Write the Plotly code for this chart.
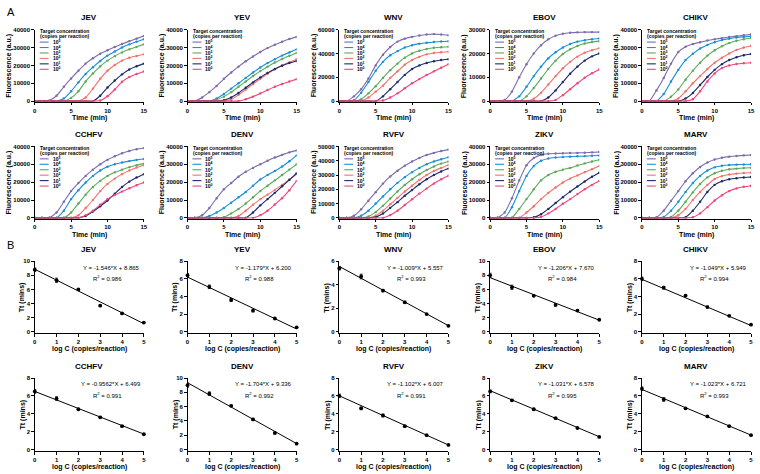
import plotly.graph_objects as go

W, H = 760, 474
FONT = "Liberation Sans, Arial, sans-serif"

# ---------------- data ----------------
time_min = list(range(16))
viruses = ["JEV", "YEV", "WNV", "EBOV", "CHIKV", "CCHFV", "DENV", "RVFV", "ZIKV", "MARV"]
conc_labels = ["10<sup>5</sup>", "10<sup>4</sup>", "10<sup>3</sup>", "10<sup>2</sup>", "10<sup>1</sup>", "10<sup>0</sup>"]
curve_colors = ["#7E6BAD", "#1A8FD6", "#5BAA5B", "#F2736E", "#1B2A6B", "#F0457A"]
fluor_max = [40000, 40000, 60000, 30000, 40000, 40000, 40000, 50000, 40000, 40000]
fluor_dtick = [10000, 10000, 20000, 10000, 10000, 10000, 10000, 10000, 10000, 10000]

JEV_curves = [
    [0, 0, 300, 3000, 8000, 12700, 17000, 21000, 24000, 26500, 28500, 30300, 32000, 33600, 35000, 36500],
    [0, 0, 0, 0, 1500, 5500, 10500, 15200, 19000, 22500, 25500, 27800, 30000, 31800, 33300, 34700],
    [0, 0, 0, 0, 0, 1800, 5500, 11000, 15500, 19500, 22700, 25200, 27300, 29000, 30400, 31800],
    [0, 0, 0, 0, 0, 0, 0, 2000, 7000, 12500, 17000, 20200, 22700, 24300, 25300, 26200],
    [0, 0, 0, 0, 0, 0, 0, 0, 0, 3000, 7600, 11500, 15000, 17700, 19500, 21000],
    [0, 0, 0, 0, 0, 0, 0, 0, 0, 300, 2700, 6500, 10800, 13500, 15200, 16600],
]
YEV_curves = [
    [0, 0, 2000, 5000, 8500, 12500, 16000, 19300, 22300, 25000, 27500, 29700, 31600, 33300, 34800, 36000],
    [0, 0, 0, 0, 1500, 4000, 7000, 10000, 13000, 16000, 18800, 21300, 23500, 25500, 27300, 29000],
    [0, 0, 0, 0, 800, 2500, 5000, 8000, 11000, 14000, 16800, 19300, 21600, 23600, 25400, 27000],
    [0, 0, 0, 0, 0, 0, 1000, 3500, 6500, 9500, 12500, 15300, 17800, 20000, 21800, 23500],
    [0, 0, 0, 0, 0, 500, 2000, 4500, 7500, 10500, 13300, 15800, 18000, 19800, 21300, 22500],
    [0, 0, 0, 0, 0, 0, 0, 0, 1000, 2500, 4300, 6200, 8000, 9600, 11000, 12300],
]
WNV_curves = [
    [0, 0, 4000, 10000, 19000, 30000, 39000, 45500, 50000, 52500, 54000, 55200, 56000, 56300, 56000, 55300],
    [0, 0, 800, 7000, 16000, 25500, 33000, 38500, 42000, 45000, 47000, 48300, 49000, 49700, 50100, 50300],
    [0, 0, 0, 1500, 6500, 12500, 19500, 26000, 31500, 36500, 40000, 42300, 43800, 44800, 45300, 45700],
    [0, 0, 0, 0, 3000, 8000, 13000, 19500, 25000, 30500, 34500, 37200, 39300, 40400, 41000, 41500],
    [0, 0, 0, 0, 0, 0, 4000, 10000, 16000, 22000, 27000, 30000, 32000, 33500, 34500, 35200],
    [0, 0, 0, 0, 0, 0, 500, 3000, 6500, 10800, 15000, 18500, 22000, 25000, 28000, 31000],
]
EBOV_curves = [
    [0, 0, 500, 4000, 10000, 15500, 20000, 23500, 26000, 27500, 28300, 28700, 28900, 29000, 29000, 29000],
    [0, 0, 0, 0, 2000, 6000, 10500, 14500, 18000, 20500, 22500, 24000, 25000, 25600, 26000, 26300],
    [0, 0, 0, 0, 0, 2000, 5500, 9500, 13500, 17000, 19800, 21800, 23200, 24200, 24800, 25200],
    [0, 0, 0, 0, 0, 0, 1000, 3500, 7000, 10500, 13800, 16500, 18700, 20300, 21400, 22200],
    [0, 0, 0, 0, 0, 0, 0, 0, 1500, 4500, 8000, 11500, 14500, 17000, 18800, 20000],
    [0, 0, 0, 0, 0, 0, 0, 0, 0, 500, 2500, 5000, 7500, 9800, 11700, 13300],
]
CHIKV_curves = [
    [0, 0, 6000, 13000, 21000, 27500, 30500, 32000, 33000, 34000, 34700, 35300, 35900, 36400, 36900, 37400],
    [0, 0, 0, 4000, 11000, 17500, 23000, 26500, 29500, 31500, 33000, 34200, 35000, 35600, 36000, 36300],
    [0, 0, 0, 0, 2500, 6500, 12000, 17000, 21500, 25500, 28500, 30800, 32500, 33800, 34700, 35400],
    [0, 0, 0, 0, 0, 1500, 5500, 10000, 14000, 18000, 21500, 24300, 26700, 28600, 30000, 31000],
    [0, 0, 0, 0, 0, 0, 1500, 4500, 9000, 13500, 17500, 20700, 23000, 24600, 25700, 26400],
    [0, 0, 0, 0, 0, 0, 0, 1000, 5500, 11000, 15500, 18500, 20000, 20800, 21200, 21500],
]
CCHFV_curves = [
    [0, 0, 0, 3000, 9000, 15000, 19500, 23500, 27000, 30000, 32500, 34500, 36200, 37500, 38400, 39100],
    [0, 0, 0, 0, 4000, 10500, 15500, 19800, 23500, 26500, 28600, 30000, 31000, 31800, 32500, 33000],
    [0, 0, 0, 0, 0, 3000, 8000, 13000, 17300, 20700, 23500, 25500, 27000, 28400, 29500, 30400],
    [0, 0, 0, 0, 0, 0, 1500, 5500, 10000, 15000, 19000, 22000, 24500, 26500, 28200, 29500],
    [0, 0, 0, 0, 0, 0, 0, 1000, 3500, 6500, 9700, 13500, 17300, 20300, 22600, 24500],
    [0, 0, 0, 0, 0, 0, 0, 1500, 4000, 7300, 10500, 12800, 14700, 16600, 18300, 19800],
]
DENV_curves = [
    [0, 0, 1500, 5500, 11000, 16000, 19500, 23000, 25800, 28000, 30000, 32000, 33800, 35300, 36700, 37800],
    [0, 0, 0, 1000, 3000, 5500, 8500, 11500, 14500, 18000, 21500, 24000, 26300, 28800, 31700, 35000],
    [0, 0, 0, 0, 0, 300, 2500, 5000, 8000, 11500, 15000, 18000, 21000, 24000, 27000, 30000],
    [0, 0, 0, 0, 0, 0, 0, 1000, 4000, 7300, 10500, 13000, 15700, 18500, 21500, 24500],
    [0, 0, 0, 0, 0, 0, 0, 0, 0, 3000, 7000, 10500, 14000, 17700, 21300, 25000],
    [0, 0, 0, 0, 0, 0, 0, 0, 0, 0, 1500, 4000, 7500, 11000, 15500, 20700],
]
RVFV_curves = [
    [0, 0, 1500, 6000, 12000, 18000, 24000, 29000, 33000, 36500, 39500, 42000, 44000, 45500, 46800, 47800],
    [0, 0, 0, 1500, 5000, 10000, 15000, 20000, 24500, 28500, 32000, 35000, 37500, 39500, 41000, 42500],
    [0, 0, 0, 0, 1000, 4000, 8500, 13500, 18500, 23000, 27000, 30500, 33500, 36000, 38000, 39500],
    [0, 0, 0, 0, 0, 1500, 5000, 9500, 14000, 18500, 22500, 26500, 30000, 32800, 35000, 37000],
    [0, 0, 0, 0, 0, 500, 3000, 7000, 11000, 15500, 19500, 23500, 27000, 30000, 32500, 34500],
    [0, 0, 0, 0, 0, 0, 0, 2000, 5000, 9000, 13000, 17000, 20500, 24000, 27000, 29500],
]
ZIKV_curves = [
    [0, 0, 3000, 11000, 21000, 29500, 33500, 35300, 35900, 36100, 36200, 36300, 36400, 36500, 36700, 36900],
    [0, 0, 0, 6000, 15000, 23500, 29000, 32000, 33300, 33800, 34100, 34300, 34500, 34600, 34800, 34900],
    [0, 0, 0, 0, 5000, 10500, 16000, 21000, 24000, 25800, 27000, 28000, 29300, 30500, 31600, 32600],
    [0, 0, 0, 0, 0, 3000, 6500, 10500, 14000, 17000, 19800, 22000, 23800, 25600, 27300, 29000],
    [0, 0, 0, 0, 0, 0, 300, 2000, 5000, 8300, 11600, 14700, 17600, 20400, 23000, 25300],
    [0, 0, 0, 0, 0, 0, 0, 500, 2500, 5000, 7900, 10500, 13300, 16000, 18500, 20700],
]
MARV_curves = [
    [0, 0, 300, 4000, 9500, 15000, 20500, 25000, 28500, 31000, 32700, 33700, 34300, 34700, 35000, 35200],
    [0, 0, 0, 500, 4000, 9000, 14500, 19500, 23500, 26500, 28300, 29200, 29600, 29800, 29900, 30000],
    [0, 0, 0, 0, 500, 4000, 9000, 14300, 19000, 22700, 25000, 26400, 27200, 27600, 27900, 28100],
    [0, 0, 0, 0, 0, 1500, 5000, 10000, 14500, 18500, 21800, 23400, 24300, 24800, 25100, 25300],
    [0, 0, 0, 0, 0, 0, 300, 4000, 9000, 14500, 18500, 20500, 21600, 22200, 22600, 22900],
    [0, 0, 0, 0, 0, 0, 0, 300, 2500, 6000, 9700, 12700, 15000, 16500, 17400, 18000],
]

log_c = [0, 1, 2, 3, 4, 5]
JEV_tt = [8.8, 7.3, 6.0, 3.7, 2.6, 1.3];   JEV_err = [0.25, 0.3, 0.1, 0.1, 0.1, 0.05]
YEV_tt = [6.4, 5.1, 3.6, 2.4, 1.5, 0.5];   YEV_err = [0.2, 0.2, 0.15, 0.15, 0.05, 0.05]
WNV_tt = [5.4, 4.7, 3.5, 2.5, 1.5, 0.5];   WNV_err = [0.15, 0.2, 0.1, 0.1, 0.05, 0.05]
EBOV_tt = [8.0, 6.3, 5.1, 3.8, 3.0, 1.7];  EBOV_err = [0.3, 0.3, 0.1, 0.15, 0.1, 0.05]
CHIKV_tt = [6.0, 5.0, 4.1, 2.8, 1.8, 0.8]; CHIKV_err = [0.2, 0.15, 0.1, 0.1, 0.05, 0.05]
CCHFV_tt = [6.5, 5.7, 4.5, 3.6, 2.6, 1.7]; CCHFV_err = [0.2, 0.2, 0.1, 0.1, 0.05, 0.05]
DENV_tt = [9.0, 7.8, 6.1, 4.2, 2.3, 0.8];  DENV_err = [0.3, 0.25, 0.1, 0.15, 0.1, 0.05]
RVFV_tt = [6.0, 4.6, 3.8, 2.6, 1.6, 0.5];  RVFV_err = [0.2, 0.15, 0.15, 0.1, 0.05, 0.05]
ZIKV_tt = [6.5, 5.5, 4.5, 3.5, 2.4, 1.4];  ZIKV_err = [0.15, 0.1, 0.1, 0.05, 0.05, 0.05]
MARV_tt = [6.8, 5.6, 4.6, 3.7, 2.6, 1.6];  MARV_err = [0.2, 0.2, 0.1, 0.05, 0.05, 0.05]

fit_slope = [-1.546, -1.179, -1.009, -1.206, -1.049, -0.9562, -1.704, -1.102, -1.031, -1.023]
fit_intercept = [8.865, 6.200, 5.557, 7.670, 5.949, 6.499, 9.336, 6.007, 6.578, 6.721]
slope_text = ["-1.546", "-1.179", "-1.009", "-1.206", "-1.049", "-0.9562", "-1.704", "-1.102", "-1.031", "-1.023"]
intercept_text = ["8.865", "6.200", "5.557", "7.670", "5.949", "6.499", "9.336", "6.007", "6.578", "6.721"]
r2_text = ["0.986", "0.988", "0.993", "0.984", "0.994", "0.991", "0.992", "0.991", "0.995", "0.993"]
tt_max = [10, 8, 6, 10, 8, 8, 10, 8, 8, 8]

curves_by_virus = [JEV_curves, YEV_curves, WNV_curves, EBOV_curves, CHIKV_curves,
                   CCHFV_curves, DENV_curves, RVFV_curves, ZIKV_curves, MARV_curves]
tt_by_virus = [JEV_tt, YEV_tt, WNV_tt, EBOV_tt, CHIKV_tt, CCHFV_tt, DENV_tt, RVFV_tt, ZIKV_tt, MARV_tt]
err_by_virus = [JEV_err, YEV_err, WNV_err, EBOV_err, CHIKV_err, CCHFV_err, DENV_err, RVFV_err, ZIKV_err, MARV_err]

# ---------------- layout geometry (pixels) ----------------
col_left = [33, 187, 340, 492, 645]
PW = 110
row_top = [27, 145, 261, 379]
row_bot = [100, 218, 334, 453]


def px(x):
    return x / W


def py(y):
    return 1 - y / H


fig = go.Figure()
annotations = []
shapes = []
layout = {}

tickfont = dict(family=FONT, size=6, color="black", weight="bold")
LEG_FONT = dict(family=FONT, size=5, color="black", weight="bold")

for idx in range(20):
    r, c = idx // 5, idx % 5
    ax = idx + 1
    xa = "x" if ax == 1 else f"x{ax}"
    ya = "y" if ax == 1 else f"y{ax}"
    L, T, B = col_left[c], row_top[r], row_bot[r]
    v = idx % 10
    panelA = idx < 10

    if panelA:
        ymax = fluor_max[v]
        for k in range(6):
            fig.add_trace(go.Scatter(
                x=time_min, y=curves_by_virus[v][k], mode="lines+markers",
                line=dict(color=curve_colors[k], width=1.1, shape="spline", smoothing=0.5),
                marker=dict(color=curve_colors[k], size=2.4),
                xaxis=xa, yaxis=ya, showlegend=False, hoverinfo="skip"))
        xr = [0, 15]
        yr = [-0.012 * ymax, ymax]
        xt = dict(tickvals=[0, 5, 10, 15])
        yt = dict(tick0=0, dtick=fluor_dtick[v], tickformat="d")
        xtitle, ytitle, yoff = "Time (min)", "Fluorescence (a.u.)", 26
        # legend
        annotations.append(dict(x=px(L + 3), y=py(T + 1.8), xref="paper", yref="paper",
                                text="Target concentration", showarrow=False, xanchor="left",
                                yanchor="middle", font=LEG_FONT))
        annotations.append(dict(x=px(L + 3), y=py(T + 6.4), xref="paper", yref="paper",
                                text="(copies per reaction)", showarrow=False, xanchor="left",
                                yanchor="middle", font=LEG_FONT))
        for k in range(6):
            yy = T + 12.5 + 5.5 * k
            shapes.append(dict(type="line", xref="paper", yref="paper",
                               x0=px(L + 5), x1=px(L + 14), y0=py(yy), y1=py(yy),
                               line=dict(color=curve_colors[k], width=1.1)))
            annotations.append(dict(x=px(L + 16), y=py(yy), xref="paper", yref="paper",
                                    text=conc_labels[k], showarrow=False, xanchor="left",
                                    yanchor="middle", font=LEG_FONT))
    else:
        ymax = tt_max[v]
        fig.add_trace(go.Scatter(
            x=[log_c[0], log_c[-1]],
            y=[fit_slope[v] * log_c[0] + fit_intercept[v], fit_slope[v] * log_c[-1] + fit_intercept[v]],
            mode="lines", line=dict(color="black", width=1),
            xaxis=xa, yaxis=ya, showlegend=False, hoverinfo="skip"))
        fig.add_trace(go.Scatter(
            x=log_c, y=tt_by_virus[v], mode="markers",
            marker=dict(color="black", size=3.8),
            error_y=dict(type="data", array=err_by_virus[v], color="black", thickness=0.8, width=1.5),
            cliponaxis=False, xaxis=xa, yaxis=ya, showlegend=False, hoverinfo="skip"))
        xr = [0, 5]
        yr = [-0.025 * ymax, ymax]
        xt = dict(tickvals=log_c)
        yt = dict(tick0=0, dtick=2)
        xtitle, ytitle, yoff = "log C (copies/reaction)", "Tt (mins)", 12
        cx = L + 77
        annotations.append(dict(x=px(cx), y=py(T + 6.5), xref="paper", yref="paper",
                                text=f"Y = {slope_text[v]}*X + {intercept_text[v]}", showarrow=False,
                                xanchor="center", yanchor="middle",
                                font=dict(family=FONT, size=6, color="black")))
        annotations.append(dict(x=px(cx - 4), y=py(T + 17), xref="paper", yref="paper",
                                text=f"R<sup>2</sup> = {r2_text[v]}", showarrow=False,
                                xanchor="center", yanchor="middle",
                                font=dict(family=FONT, size=6, color="black")))

    axis_common = dict(showline=True, linecolor="black", linewidth=1, ticks="outside",
                       ticklen=2.5, tickwidth=1, tickcolor="black", showgrid=False,
                       zeroline=False, tickfont=tickfont, fixedrange=True)
    layout["xaxis" if ax == 1 else f"xaxis{ax}"] = dict(
        domain=[px(L), px(L + PW)], anchor=ya, range=xr, **xt, **axis_common)
    layout["yaxis" if ax == 1 else f"yaxis{ax}"] = dict(
        domain=[py(B), py(T)], anchor=xa, range=yr, **yt, **axis_common)

    # titles
    annotations.append(dict(x=px(L + PW / 2), y=py(T - 12), xref="paper", yref="paper",
                            text=viruses[v], showarrow=False, xanchor="center", yanchor="middle",
                            font=dict(family=FONT, size=8, color="black", weight="bold")))
    annotations.append(dict(x=px(L + PW / 2), y=py(B + 16), xref="paper", yref="paper",
                            text=xtitle, showarrow=False, xanchor="center", yanchor="middle",
                            font=dict(family=FONT, size=7, color="black", weight="bold")))
    annotations.append(dict(x=px(L - yoff), y=py((T + B) / 2), xref="paper", yref="paper",
                            text=ytitle, showarrow=False, xanchor="center", yanchor="middle",
                            textangle=-90,
                            font=dict(family=FONT, size=7, color="black", weight="bold")))

annotations.append(dict(x=px(3), y=py(1), xref="paper", yref="paper", text="A", showarrow=False,
                        xanchor="left", yanchor="top", font=dict(family=FONT, size=11, color="black")))
annotations.append(dict(x=px(3), y=py(236), xref="paper", yref="paper", text="B", showarrow=False,
                        xanchor="left", yanchor="top", font=dict(family=FONT, size=11, color="black")))

fig.update_layout(width=W, height=H, margin=dict(l=0, r=0, t=0, b=0),
                  paper_bgcolor="white", plot_bgcolor="white",
                  annotations=annotations, shapes=shapes, **layout)

fig.write_html("out.html", config={"displayModeBar": False, "staticPlot": True},
               post_script="document.body.style.margin='0';document.body.style.overflow='hidden';")
